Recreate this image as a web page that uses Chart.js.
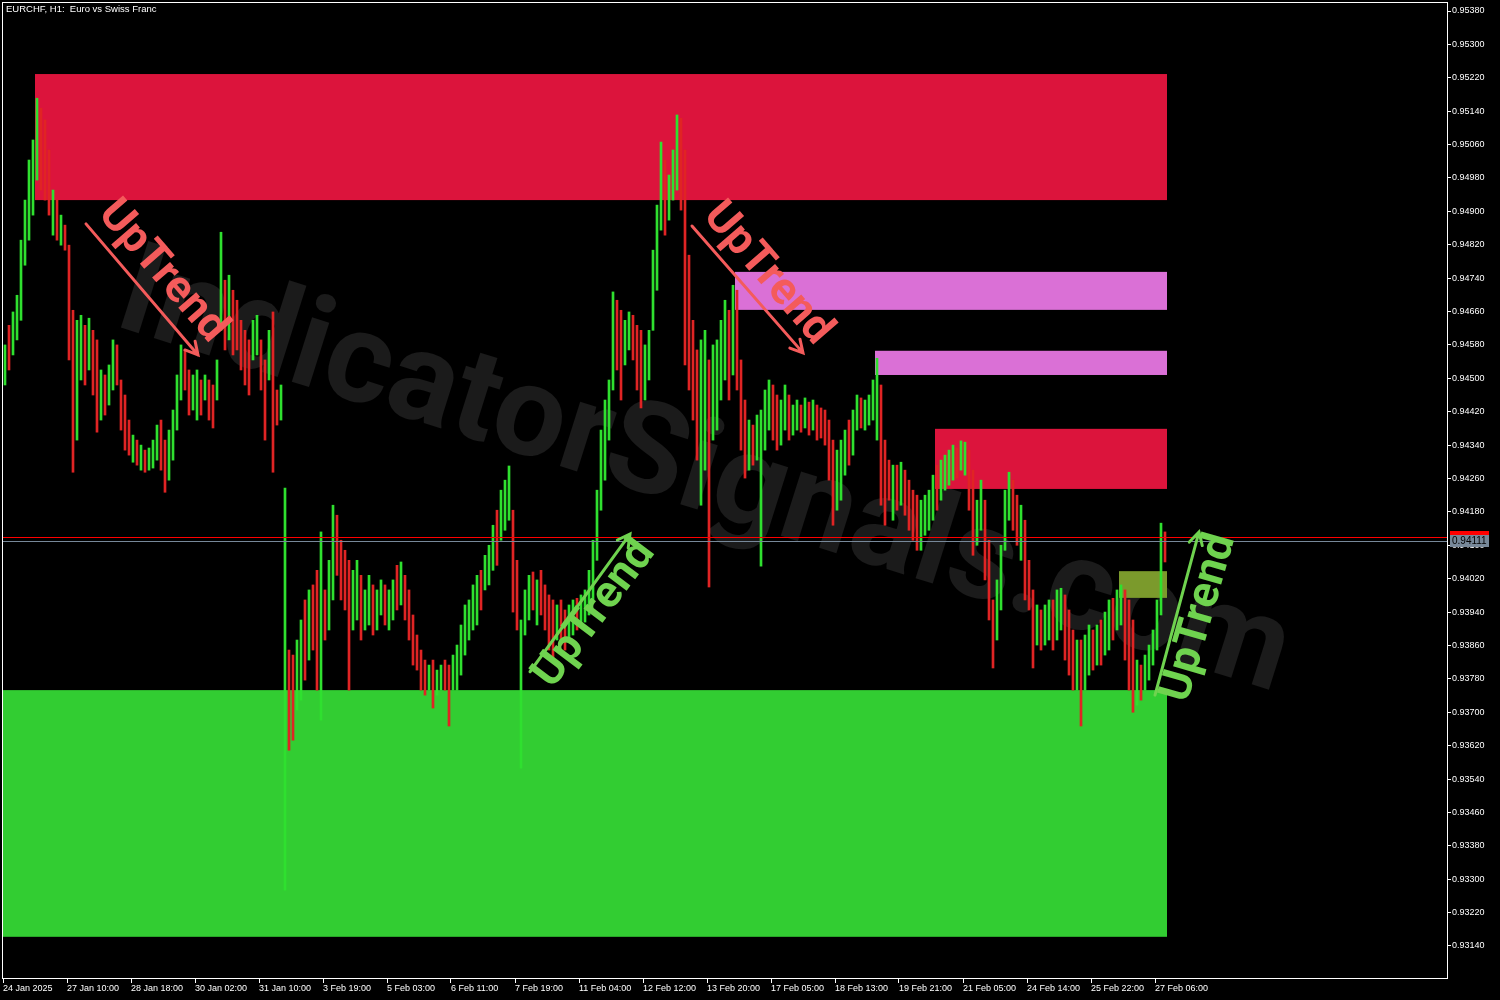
<!DOCTYPE html>
<html>
<head>
<meta charset="utf-8">
<script src="https://cdn.jsdelivr.net/npm/chart.js@4.4.1/dist/chart.umd.min.js"></script>
<style>
  html, body { margin: 0; padding: 0; background: #000; }
  #wrap { width: 1500px; height: 1000px; position: relative; }
</style>
</head>
<body>
<div id="wrap"><canvas id="priceChart"></canvas></div>
<script>
// EURCHF H1 in 2-hour steps (high / low per bar)
const barHighs = [
  0.94580, 0.94627, 0.94659, 0.94699, 0.94831, 0.94927, 0.95023, 0.95071, 0.95171, 0.95147,
  0.95119, 0.95047, 0.94951, 0.94927, 0.94891, 0.94867, 0.94819, 0.94663, 0.94639, 0.94651,
  0.94627, 0.94644, 0.94615, 0.94592, 0.94520, 0.94508, 0.94532, 0.94592, 0.94580, 0.94496,
  0.94460, 0.94400, 0.94364, 0.94352, 0.94340, 0.94328, 0.94333, 0.94352, 0.94388, 0.94400,
  0.94352, 0.94376, 0.94424, 0.94508, 0.94580, 0.94568, 0.94520, 0.94508, 0.94520, 0.94496,
  0.94508, 0.94496, 0.94484, 0.94544, 0.94850, 0.94735, 0.94747, 0.94711, 0.94687, 0.94639,
  0.94615, 0.94592, 0.94639, 0.94651, 0.94592, 0.94544, 0.94615, 0.94659, 0.94472, 0.94484,
  0.94237, 0.93849, 0.93837, 0.93873, 0.93921, 0.93969, 0.93993, 0.94005, 0.94040, 0.94132,
  0.93993, 0.94064, 0.94196, 0.94172, 0.94112, 0.94088, 0.94064, 0.94040, 0.94064, 0.94028,
  0.93993, 0.94028, 0.94005, 0.93993, 0.94017, 0.94005, 0.93993, 0.94017, 0.94052, 0.94060,
  0.94028, 0.93993, 0.93933, 0.93885, 0.93849, 0.93825, 0.93813, 0.93825, 0.93801, 0.93813,
  0.93825, 0.93813, 0.93837, 0.93861, 0.93909, 0.93957, 0.93969, 0.94005, 0.94028, 0.94040,
  0.94076, 0.94100, 0.94148, 0.94184, 0.94232, 0.94256, 0.94290, 0.94184, 0.94064, 0.93921,
  0.93993, 0.94028, 0.94036, 0.94017, 0.94040, 0.94005, 0.93981, 0.93969, 0.93957, 0.93969,
  0.93945, 0.93957, 0.93969, 0.93973, 0.93981, 0.93993, 0.94040, 0.94112, 0.94232, 0.94376,
  0.94448, 0.94496, 0.94707, 0.94687, 0.94663, 0.94639, 0.94659, 0.94651, 0.94627, 0.94615,
  0.94580, 0.94615, 0.94807, 0.94915, 0.95066, 0.95023, 0.94987, 0.95047, 0.95131, 0.95123,
  0.95047, 0.94795, 0.94639, 0.94568, 0.94592, 0.94615, 0.94544, 0.94580, 0.94592, 0.94639,
  0.94687, 0.94663, 0.94723, 0.94711, 0.94544, 0.94448, 0.94400, 0.94388, 0.94412, 0.94424,
  0.94472, 0.94496, 0.94484, 0.94460, 0.94448, 0.94484, 0.94460, 0.94436, 0.94448, 0.94436,
  0.94453, 0.94443, 0.94448, 0.94436, 0.94429, 0.94424, 0.94400, 0.94352, 0.94328, 0.94352,
  0.94376, 0.94400, 0.94424, 0.94460, 0.94453, 0.94448, 0.94460, 0.94496, 0.94548, 0.94484,
  0.94352, 0.94304, 0.94292, 0.94292, 0.94299, 0.94280, 0.94256, 0.94232, 0.94220, 0.94208,
  0.94220, 0.94232, 0.94268, 0.94292, 0.94304, 0.94316, 0.94328, 0.94340, 0.94333, 0.94350,
  0.94347, 0.94328, 0.94280, 0.94208, 0.94256, 0.94208, 0.94112, 0.93969, 0.94017, 0.94100,
  0.94232, 0.94275, 0.94256, 0.94220, 0.94196, 0.94160, 0.94064, 0.93993, 0.93957, 0.93945,
  0.93957, 0.93969, 0.93969, 0.93993, 0.93997, 0.93981, 0.93945, 0.93897, 0.93873, 0.93873,
  0.93885, 0.93909, 0.93897, 0.93909, 0.93921, 0.93940, 0.93969, 0.93973, 0.93993, 0.94005,
  0.93993, 0.93969, 0.93921, 0.93825, 0.93813, 0.93837, 0.93861, 0.93897, 0.93969, 0.94153, 0.94132
];
const barLows = [
  0.94484, 0.94520, 0.94556, 0.94592, 0.94639, 0.94771, 0.94831, 0.94891, 0.94975, 0.94951,
  0.94927, 0.94891, 0.94843, 0.94831, 0.94819, 0.94807, 0.94544, 0.94275, 0.94352, 0.94496,
  0.94484, 0.94520, 0.94460, 0.94371, 0.94400, 0.94412, 0.94436, 0.94472, 0.94484, 0.94376,
  0.94328, 0.94316, 0.94299, 0.94292, 0.94280, 0.94275, 0.94280, 0.94285, 0.94304, 0.94280,
  0.94227, 0.94256, 0.94304, 0.94376, 0.94448, 0.94472, 0.94412, 0.94424, 0.94400, 0.94412,
  0.94448, 0.94400, 0.94381, 0.94448, 0.94615, 0.94568, 0.94592, 0.94556, 0.94568, 0.94520,
  0.94484, 0.94460, 0.94544, 0.94556, 0.94472, 0.94352, 0.94496, 0.94275, 0.94388, 0.94400,
  0.93274, 0.93609, 0.93633, 0.93705, 0.93729, 0.93777, 0.93825, 0.93849, 0.93753, 0.93681,
  0.93873, 0.93897, 0.93969, 0.94028, 0.93969, 0.93945, 0.93753, 0.93897, 0.93921, 0.93873,
  0.93897, 0.93909, 0.93885, 0.93897, 0.93933, 0.93909, 0.93897, 0.93921, 0.93945, 0.93957,
  0.93921, 0.93873, 0.93813, 0.93801, 0.93753, 0.93741, 0.93753, 0.93710, 0.93741, 0.93753,
  0.93753, 0.93667, 0.93753, 0.93753, 0.93789, 0.93837, 0.93873, 0.93897, 0.93909, 0.93945,
  0.93993, 0.94005, 0.94040, 0.94052, 0.94112, 0.94136, 0.94160, 0.93940, 0.93897, 0.93566,
  0.93885, 0.93921, 0.93945, 0.93909, 0.93933, 0.93897, 0.93849, 0.93825, 0.93873, 0.93861,
  0.93849, 0.93873, 0.93885, 0.93897, 0.93909, 0.93916, 0.93933, 0.93969, 0.94064, 0.94184,
  0.94256, 0.94352, 0.94472, 0.94520, 0.94448, 0.94532, 0.94568, 0.94544, 0.94472, 0.94429,
  0.94448, 0.94496, 0.94615, 0.94711, 0.94855, 0.94843, 0.94879, 0.94927, 0.94951, 0.94903,
  0.94532, 0.94472, 0.94400, 0.94304, 0.94196, 0.94280, 0.94000, 0.94352, 0.94376, 0.94448,
  0.94496, 0.94448, 0.94508, 0.94472, 0.94328, 0.94261, 0.94280, 0.94292, 0.94304, 0.94050,
  0.94328, 0.94376, 0.94352, 0.94328, 0.94340, 0.94376, 0.94352, 0.94364, 0.94376, 0.94371,
  0.94381, 0.94364, 0.94376, 0.94352, 0.94357, 0.94340, 0.94256, 0.94148, 0.94184, 0.94208,
  0.94268, 0.94292, 0.94316, 0.94376, 0.94381, 0.94376, 0.94388, 0.94400, 0.94352, 0.94196,
  0.94148, 0.94208, 0.94160, 0.94184, 0.94196, 0.94172, 0.94136, 0.94112, 0.94088, 0.94088,
  0.94124, 0.94136, 0.94160, 0.94184, 0.94208, 0.94232, 0.94244, 0.94256, 0.94261, 0.94280,
  0.94268, 0.94184, 0.94076, 0.94100, 0.94136, 0.94017, 0.93921, 0.93806, 0.93873, 0.93945,
  0.94088, 0.94160, 0.94136, 0.94100, 0.94064, 0.93969, 0.93945, 0.93806, 0.93861, 0.93849,
  0.93861, 0.93873, 0.93849, 0.93873, 0.93897, 0.93825, 0.93789, 0.93753, 0.93753, 0.93667,
  0.93753, 0.93789, 0.93801, 0.93813, 0.93813, 0.93837, 0.93849, 0.93873, 0.93897, 0.93909,
  0.93825, 0.93753, 0.93700, 0.93717, 0.93729, 0.93753, 0.93777, 0.93813, 0.93849, 0.93933, 0.94060
];
// u = bullish bar (green), d = bearish bar (red)
const barDirs = (
  'uduuuuuuud' + 'ddududdduu' + 'dudduduudd' + 'ddududuuud' + 'duuuudduud' +
  'udduududdd' + 'dduudduddu' + 'udduududdu' + 'duudddduud' + 'uuduuduudu' +
  'dddddduduu' + 'dduuuuuuud' + 'uuuduuuddu' + 'uududdddud' + 'duuduuuuuu' +
  'uuudduuddd' + 'uuuuuduuud' + 'dddduuduuu' + 'ududdduduu' + 'uudduuduud' +
  'ududdddduu' + 'uduuduuuud' + 'ddududdddu' + 'uuuduuuudu' + 'udduuddduu' +
  'uuddudddud' + 'uuduudddud' + 'uududuuduu' + 'ddduduuuuud'
).split('');

const timeLabels = [
  '24 Jan 2025', '27 Jan 10:00', '28 Jan 18:00', '30 Jan 02:00', '31 Jan 10:00',
  '3 Feb 19:00', '5 Feb 03:00', '6 Feb 11:00', '7 Feb 19:00', '11 Feb 04:00',
  '12 Feb 12:00', '13 Feb 20:00', '17 Feb 05:00', '18 Feb 13:00', '19 Feb 21:00',
  '21 Feb 05:00', '24 Feb 14:00', '25 Feb 22:00', '27 Feb 06:00'
];
const priceTicks = [
  0.95380, 0.95300, 0.95220, 0.95140, 0.95060, 0.94980, 0.94900, 0.94820, 0.94740, 0.94660,
  0.94580, 0.94500, 0.94420, 0.94340, 0.94260, 0.94180, 0.94100, 0.94020, 0.93940, 0.93860,
  0.93780, 0.93700, 0.93620, 0.93540, 0.93460, 0.93380, 0.93300, 0.93220, 0.93140
];

// zones: first bar, last bar, bottom price, top price
const zoneStart = [8, 183, 218, 233, 279, 0];
const zoneEnd = [290, 290, 290, 290, 290, 290];
const zoneLow = [0.94927, 0.94664, 0.94508, 0.94235, 0.93974, 0.93162];
const zoneHigh = [0.95229, 0.94755, 0.94566, 0.94379, 0.94038, 0.93753];
const zoneColors = ['#dc143c', '#da70d6', '#da70d6', '#dc143c', '#7b9a2c', '#32cd32'];

const bidPrice = 0.94111;
const askPrice = 0.94120;

const SLOTS = 361;
const FONT = '"Liberation Sans", Arial, sans-serif';
const BOLD = 'Roboto, "Noto Sans", sans-serif';
const RED_NOTE = '#f45b5b';
const GREEN_NOTE = '#6fd34f';

// "UpTrend" callouts, placed in bar / price units
const notes = [
  { slot: 39.25, price: 0.94755, angle: 49, color: RED_NOTE },
  { slot: 190.5, price: 0.94750, angle: 49, color: RED_NOTE },
  { slot: 147.5, price: 0.93935, angle: -53, color: GREEN_NOTE },
  { slot: 298.75, price: 0.93926, angle: -74, color: GREEN_NOTE }
];
const arrows = [
  { from: [20.25, 0.94870], to: [48.25, 0.94556], color: RED_NOTE },
  { from: [171.75, 0.94865], to: [199.5, 0.94561], color: RED_NOTE },
  { from: [131.25, 0.93797], to: [156.25, 0.94127], color: GREEN_NOTE },
  { from: [287.5, 0.93741], to: [298.5, 0.94132], color: GREEN_NOTE }
];

const overlay = {
  id: 'overlay',
  beforeDatasetsDraw(chart) {
    const { ctx, chartArea: a, scales: { x, y } } = chart;
    ctx.save();
    ctx.beginPath();
    ctx.rect(a.left, a.top, a.right - a.left, a.bottom - a.top);
    ctx.clip();

    // watermark
    ctx.save();
    ctx.translate(a.left + (a.right - a.left) * 0.485, a.top + (a.bottom - a.top) * 0.487);
    ctx.rotate(17.5 * Math.PI / 180);
    ctx.font = 'bold 100px ' + BOLD;
    const w = ctx.measureText('IndicatorSignals.com').width;
    ctx.font = `bold ${100 * 1220 / w}px ${BOLD}`;
    ctx.fillStyle = '#1b1b1b';
    ctx.textAlign = 'center';
    ctx.textBaseline = 'middle';
    ctx.fillText('IndicatorSignals.com', 0, 0);
    ctx.restore();

    // zones
    zoneLow.forEach((lo, i) => {
      const x0 = x.getPixelForValue(zoneStart[i] - 0.5);
      const x1 = x.getPixelForValue(zoneEnd[i] + 0.5);
      const y0 = y.getPixelForValue(zoneHigh[i]);
      const y1 = y.getPixelForValue(lo);
      ctx.fillStyle = zoneColors[i];
      ctx.fillRect(x0, y0, x1 - x0, y1 - y0);
    });
    ctx.restore();
  },
  afterDatasetsDraw(chart) {
    const { ctx, chartArea: a, scales: { x, y } } = chart;
    ctx.save();
    ctx.beginPath();
    ctx.rect(a.left, a.top, a.right - a.left, a.bottom - a.top);
    ctx.clip();

    // ask / bid lines
    const ya = Math.round(y.getPixelForValue(askPrice)) + 0.5;
    const yb = Math.round(y.getPixelForValue(bidPrice)) + 0.5;
    ctx.lineWidth = 1;
    ctx.strokeStyle = '#ff0000';
    ctx.beginPath(); ctx.moveTo(a.left, ya); ctx.lineTo(a.right, ya); ctx.stroke();
    ctx.strokeStyle = '#778899';
    ctx.beginPath(); ctx.moveTo(a.left, yb); ctx.lineTo(a.right, yb); ctx.stroke();

    // arrows
    arrows.forEach(ar => {
      const x0 = x.getPixelForValue(ar.from[0]), y0 = y.getPixelForValue(ar.from[1]);
      const x1 = x.getPixelForValue(ar.to[0]), y1 = y.getPixelForValue(ar.to[1]);
      const ang = Math.atan2(y1 - y0, x1 - x0);
      ctx.strokeStyle = ar.color;
      ctx.lineWidth = 3;
      ctx.lineCap = 'round';
      ctx.beginPath();
      ctx.moveTo(x0, y0); ctx.lineTo(x1, y1);
      ctx.moveTo(x1 - 14 * Math.cos(ang - 0.5), y1 - 14 * Math.sin(ang - 0.5));
      ctx.lineTo(x1, y1);
      ctx.lineTo(x1 - 14 * Math.cos(ang + 0.5), y1 - 14 * Math.sin(ang + 0.5));
      ctx.stroke();
    });

    // UpTrend words
    notes.forEach(n => {
      ctx.save();
      ctx.translate(x.getPixelForValue(n.slot), y.getPixelForValue(n.price));
      ctx.rotate(n.angle * Math.PI / 180);
      ctx.font = 'bold 100px ' + BOLD;
      const tw = ctx.measureText('UpTrend').width;
      ctx.font = `bold ${100 * 172 / tw}px ${BOLD}`;
      ctx.fillStyle = n.color;
      ctx.textAlign = 'center';
      ctx.textBaseline = 'middle';
      ctx.fillText('UpTrend', 0, 0);
      ctx.restore();
    });
    ctx.restore();
  },
  afterDraw(chart) {
    const { ctx, chartArea: a, scales: { y } } = chart;
    ctx.save();
    // frame
    ctx.strokeStyle = '#ffffff';
    ctx.lineWidth = 1;
    ctx.strokeRect(a.left - 0.5, a.top - 0.5, a.right - a.left + 1, a.bottom - a.top + 1);

    // title
    ctx.fillStyle = '#ffffff';
    ctx.font = '9.5px ' + FONT;
    ctx.textBaseline = 'middle';
    ctx.textAlign = 'left';
    ctx.fillText('EURCHF, H1:  Euro vs Swiss Franc', a.left + 3, a.top + 6);

    // price tags on the axis
    const ya = Math.round(y.getPixelForValue(askPrice));
    const yb = Math.round(y.getPixelForValue(bidPrice));
    ctx.fillStyle = '#ff0000';
    ctx.fillRect(a.right + 3, ya - 6, 39, 12);
    ctx.fillStyle = '#778899';
    ctx.fillRect(a.right + 3, yb - 6, 39, 12);
    ctx.fillStyle = '#000000';
    ctx.font = '10px ' + FONT;
    ctx.fillText(bidPrice.toFixed(5), a.right + 5, yb + 0.5);
    ctx.restore();
  }
};

new Chart(document.getElementById('priceChart'), {
  type: 'bar',
  data: {
    datasets: [{
      data: barHighs.map((h, i) => ({ x: i, y: [barLows[i], h] })),
      backgroundColor: barDirs.map(d => d === 'u' ? '#2fe02f' : '#e02424'),
      barThickness: 2,
      borderWidth: 0,
      grouped: false
    }]
  },
  options: {
    responsive: true,
    maintainAspectRatio: false,
    devicePixelRatio: 1,
    animation: false,
    layout: { padding: { left: 3, top: 3, right: 0, bottom: 0 } },
    plugins: { legend: { display: false }, tooltip: { enabled: false } },
    scales: {
      x: {
        type: 'linear',
        min: -0.5,
        max: SLOTS - 0.5,
        offset: false,
        afterBuildTicks: s => { s.ticks = timeLabels.map((_, i) => ({ value: -0.5 + 16 * i })); },
        afterFit: s => { s.height = 22; s.paddingLeft = 0; s.paddingRight = 0; },
        ticks: {
          autoSkip: false,
          maxRotation: 0,
          align: 'start',
          padding: 0,
          color: '#ffffff',
          font: { family: FONT, size: 9 },
          callback: (v, i) => timeLabels[i]
        },
        grid: { drawOnChartArea: false, offset: false, color: '#ffffff', tickLength: 5 },
        border: { color: '#ffffff' }
      },
      y: {
        type: 'linear',
        position: 'right',
        min: 0.930633,
        max: 0.953992,
        afterBuildTicks: s => { s.ticks = priceTicks.map(v => ({ value: v })); },
        afterFit: s => { s.width = 53; s.paddingTop = 0; s.paddingBottom = 0; },
        ticks: {
          padding: 1,
          color: '#ffffff',
          font: { family: FONT, size: 9 },
          callback: v => v.toFixed(5)
        },
        grid: { drawOnChartArea: false, color: '#ffffff', tickLength: 4 },
        border: { color: '#ffffff' }
      }
    }
  },
  plugins: [overlay]
});
</script>
</body>
</html>
